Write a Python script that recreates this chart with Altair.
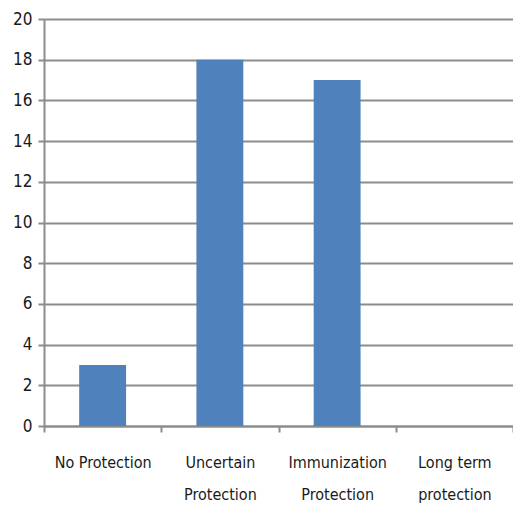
import altair as alt
import pandas as pd

categories = ["No Protection", "Uncertain|Protection", "Immunization|Protection", "Long term|protection"]
counts = [3, 18, 17, 0]

df = pd.DataFrame({"category": categories, "count": counts})

FONT = "DejaVu Sans Condensed, Liberation Sans Narrow, sans-serif"

chart = alt.Chart(df).mark_bar(
    color="#4F81BD", width=alt.RelativeBandSize(0.4)
).encode(
    x=alt.X(
        "category:N",
        sort=categories,
        scale=alt.Scale(paddingInner=0, paddingOuter=0),
        axis=alt.Axis(
            title=None,
            labelAngle=0,
            labelExpr="split(datum.label, '|')",
            tickBand="extent",
            ticks=True,
            tickSize=6,
            tickColor="#8c8c8c",
            tickWidth=2,
            domainColor="#8c8c8c",
            domainWidth=2,
            labelFont=FONT,
            labelFontSize=16,
            labelColor="#1a1a1a",
            labelPadding=22,
            labelLineHeight=32,
        ),
    ),
    y=alt.Y(
        "count:Q",
        scale=alt.Scale(domain=[0, 20], nice=False),
        axis=alt.Axis(
            title=None,
            values=list(range(0, 21, 2)),
            grid=True,
            gridColor="#8c8c8c",
            gridWidth=2,
            tickSize=6,
            tickColor="#8c8c8c",
            tickWidth=2,
            domainColor="#8c8c8c",
            domainWidth=2,
            labelFont=FONT,
            labelFontSize=17,
            labelColor="#1a1a1a",
            labelPadding=6,
        ),
    ),
).properties(
    width=469,
    height=407,
    autosize=alt.AutoSizeParams(type="none"),
    padding={"left": 44, "top": 19, "right": 0, "bottom": 83},
).configure_view(stroke=None).configure(background="white")

chart.save("out.html", embed_options={"renderer": "svg", "actions": False})
